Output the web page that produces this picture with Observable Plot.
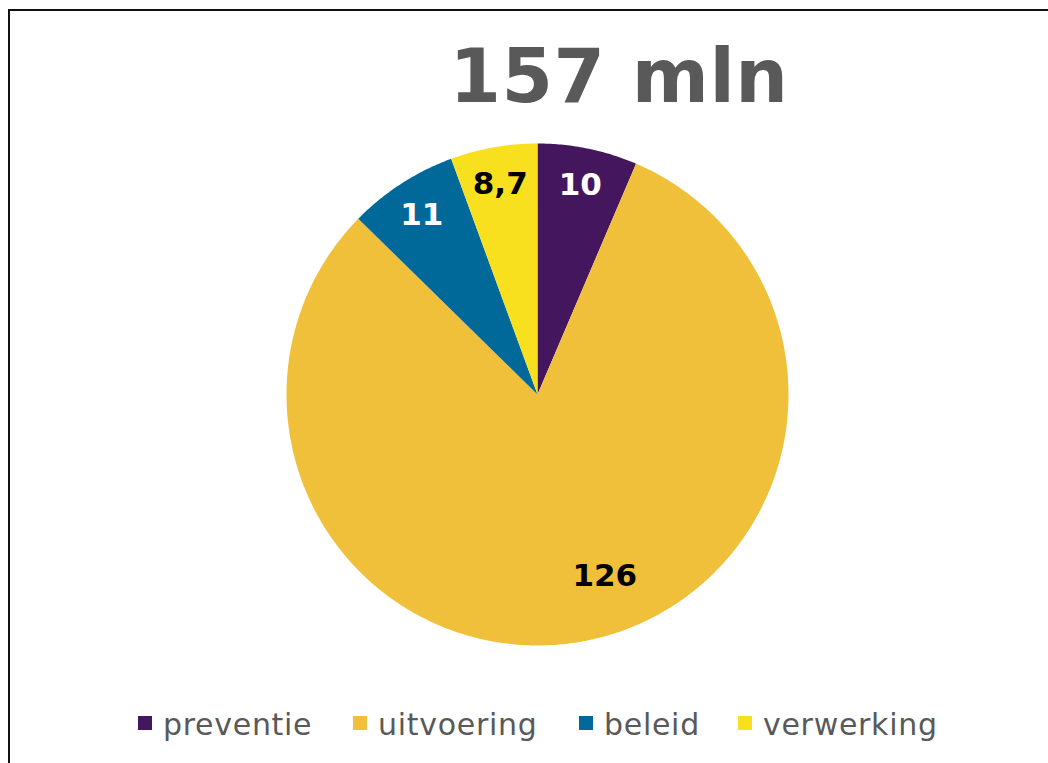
<!DOCTYPE html>
<html>
<head>
<meta charset="utf-8">
<script src="https://cdn.jsdelivr.net/npm/d3@7"></script>
<script src="https://cdn.jsdelivr.net/npm/@observablehq/plot@0.6"></script>
<style>
  html, body { margin: 0; padding: 0; background: #fff; overflow: hidden; }
  #frame { position: relative; width: 1048px; height: 763px; overflow: hidden; font-family: "DejaVu Sans", Verdana, sans-serif; }
  #border { position: absolute; left: 8px; top: 9px; width: 1200px; height: 900px; border-top: 2.5px solid #111; border-left: 2.5px solid #111; }
  #title { position: absolute; left: 0; width: 1238px; top: 31px; text-align: center; font-size: 74px; font-weight: bold; color: #595959; line-height: 90px; letter-spacing: 0.5px; }
  #chart { position: absolute; left: 0; top: 120px; }
  .leg { position: absolute; top: 705px; font-size: 30px; color: #595959; line-height: 40px; white-space: nowrap; letter-spacing: 0.7px; }
  .sw { position: absolute; width: 14px; height: 14px; top: 716px; }
</style>
</head>
<body>
<div id="frame">
  <div id="border"></div>
  <div id="title"></div>
  <div id="chart"></div>
  <div id="legend"></div>
</div>
<script>
const title = "157 mln";
const categories = ["preventie", "uitvoering", "beleid", "verwerking"];
const values = [10, 126, 11, 8.7];
const valueLabels = ["10", "126", "11", "8,7"];
const colors = ["#44165e", "#f1c03a", "#01689a", "#f8e01e"];
const labelColors = ["#ffffff", "#000000", "#ffffff", "#000000"];

document.getElementById("title").textContent = title;

// pie geometry in unit-circle data space
const arcs = d3.pie().sort(null).startAngle(0).endAngle(2 * Math.PI)(values);
const polys = [];
arcs.forEach((a, i) => {
  const n = Math.max(4, Math.ceil((a.endAngle - a.startAngle) / (Math.PI / 360)));
  polys.push({cat: categories[i], x: 0, y: 0});
  for (let k = 0; k <= n; k++) {
    const t = a.startAngle + (a.endAngle - a.startAngle) * k / n;
    polys.push({cat: categories[i], x: Math.sin(t), y: Math.cos(t)});
  }
  polys.push({cat: categories[i], x: 0, y: 0});
});

const labelPts = arcs.map((a, i) => {
  const big = values[i] === d3.max(values);
  const mid = (a.startAngle + a.endAngle) / 2 - (big ? 0.16 : 0);
  const r = big ? 0.77 : 0.85;
  return {x: r * Math.sin(mid), y: r * Math.cos(mid), text: valueLabels[i], color: labelColors[i]};
});

const cx = 537, cy = 394 - 120, R = 251;
const plot = Plot.plot({
  width: 1048,
  height: 550,
  margin: 0,
  x: {domain: [-1, 1], range: [cx - R, cx + R], axis: null},
  y: {domain: [-1, 1], range: [cy + R, cy - R], axis: null},
  color: {domain: categories, range: colors},
  marks: [
    Plot.line(polys, {x: "x", y: "y", z: "cat", fill: "cat", stroke: "none", curve: "linear"}),
    Plot.text(labelPts, {x: "x", y: "y", text: "text", fill: "color", fontSize: 31, fontWeight: "bold", fontFamily: "DejaVu Sans, Verdana, sans-serif", textAnchor: "middle", lineAnchor: "middle"})
  ]
});
plot.style.overflow = "visible";
document.getElementById("chart").appendChild(plot);

// legend
const legendX = [138, 353, 579, 738];
const legend = document.getElementById("legend");
categories.forEach((c, i) => {
  const sw = document.createElement("div");
  sw.className = "sw";
  sw.style.left = legendX[i] + "px";
  sw.style.background = colors[i];
  legend.appendChild(sw);
  const t = document.createElement("div");
  t.className = "leg";
  t.style.left = (legendX[i] + 25) + "px";
  t.textContent = c;
  legend.appendChild(t);
});
</script>
</body>
</html>
